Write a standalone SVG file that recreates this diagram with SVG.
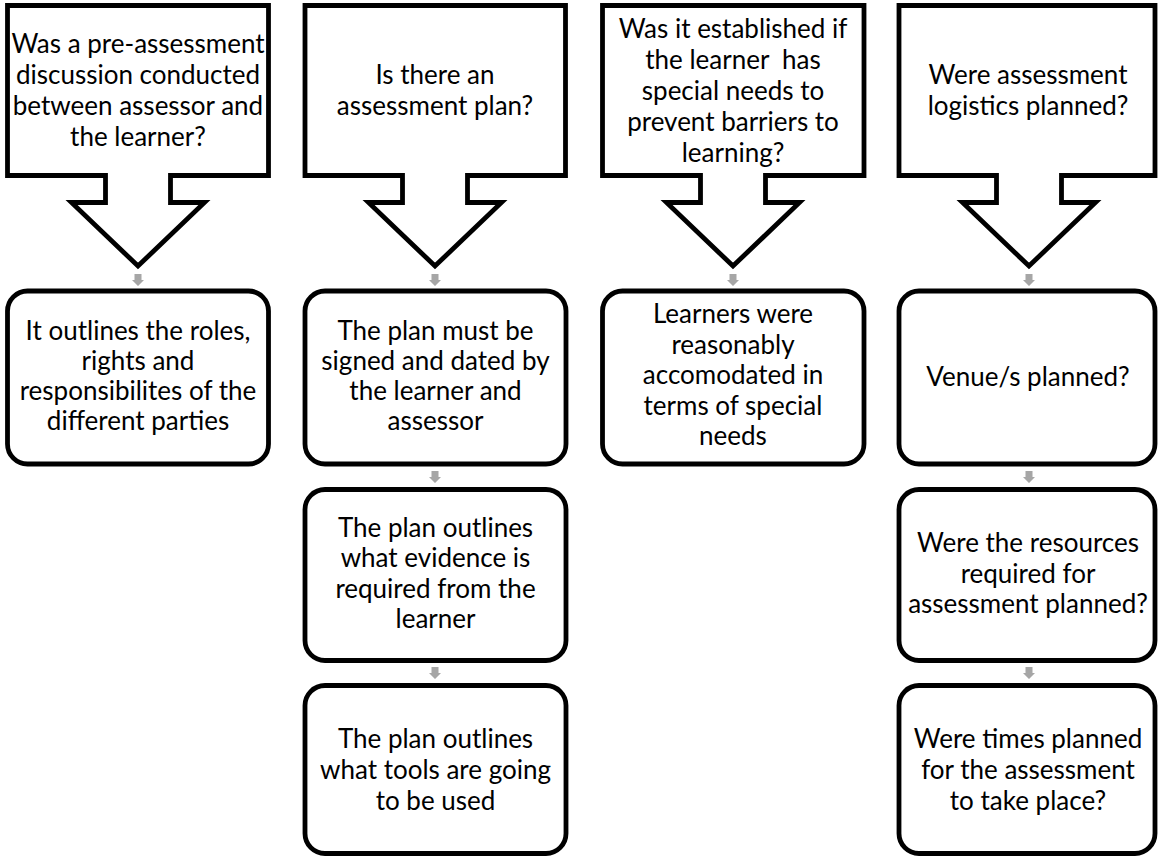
<svg xmlns="http://www.w3.org/2000/svg" width="1158" height="858" viewBox="0 0 1158 858">
  <style>
    .callout { fill: #ffffff; stroke: #000000; stroke-width: 4.8; stroke-linejoin: miter; }
    .step { fill: #ffffff; stroke: #000000; stroke-width: 4.8; }
    .lbl { font-family: Lato, "Liberation Sans", sans-serif; font-size: 26px; fill: #000000; text-anchor: middle; }
    .link { fill: #a6a6a6; }
  </style>
  <defs>
    <!-- small grey down-arrow used between stacked steps -->
    <path id="down" d="M -3.5 0 H 3.5 V 6 H 6 L 0 12 L -6 6 H -3.5 Z"/>
  </defs>
  <rect width="1158" height="858" fill="#ffffff"/>

  <!-- column 1 -->
  <g id="q1">
    <path class="callout" d="M 7.5 5.5 H 268.5 V 175.5 H 170.5 V 202.5 H 204.5 L 138 266 L 71.5 202.5 H 105.5 V 175.5 H 7.5 Z"/>
    <text class="lbl" x="138" y="53">Was a pre-assessment</text>
    <text class="lbl" x="138" y="84">discussion conducted</text>
    <text class="lbl" x="138" y="115">between assessor and</text>
    <text class="lbl" x="138" y="146">the learner?</text>
  </g>
  <g id="a1">
    <rect class="step" x="7.5" y="291" width="261" height="173" rx="20"/>
    <text class="lbl" x="138" y="340">It outlines the roles,</text>
    <text class="lbl" x="138" y="370">rights and</text>
    <text class="lbl" x="138" y="400">responsibilites of the</text>
    <text class="lbl" x="138" y="430">different parties</text>
  </g>

  <!-- column 2 -->
  <g id="q2">
    <path class="callout" d="M 305 5.5 H 565.5 V 175.5 H 467.5 V 202.5 H 501.5 L 435 266 L 368.5 202.5 H 402.5 V 175.5 H 305 Z"/>
    <text class="lbl" x="435" y="84">Is there an</text>
    <text class="lbl" x="435" y="115">assessment plan?</text>
  </g>
  <g id="a2">
    <rect class="step" x="305" y="291" width="261" height="173" rx="20"/>
    <text class="lbl" x="435.5" y="340">The plan must be</text>
    <text class="lbl" x="435.5" y="370">signed and dated by</text>
    <text class="lbl" x="435.5" y="400">the learner and</text>
    <text class="lbl" x="435.5" y="430">assessor</text>
  </g>
  <g id="a3">
    <rect class="step" x="305" y="489.5" width="261" height="171" rx="20"/>
    <text class="lbl" x="435.5" y="537">The plan outlines</text>
    <text class="lbl" x="435.5" y="567">what evidence is</text>
    <text class="lbl" x="435.5" y="598">required from the</text>
    <text class="lbl" x="435.5" y="628">learner</text>
  </g>
  <g id="a4">
    <rect class="step" x="305" y="685.5" width="261" height="168" rx="20"/>
    <text class="lbl" x="435.5" y="748">The plan outlines</text>
    <text class="lbl" x="435.5" y="779">what tools are going</text>
    <text class="lbl" x="435.5" y="810">to be used</text>
  </g>

  <!-- column 3 -->
  <g id="q3">
    <path class="callout" d="M 602.5 5.5 H 864 V 175.5 H 765.5 V 202.5 H 799.5 L 733 266 L 666.5 202.5 H 700.5 V 175.5 H 602.5 Z"/>
    <text class="lbl" x="733" y="38">Was it established if</text>
    <text class="lbl" x="733" y="69" xml:space="preserve">the learner  has</text>
    <text class="lbl" x="733" y="100">special needs to</text>
    <text class="lbl" x="733" y="131">prevent barriers to</text>
    <text class="lbl" x="733" y="162">learning?</text>
  </g>
  <g id="a5">
    <rect class="step" x="602.5" y="291" width="261.5" height="173" rx="20"/>
    <text class="lbl" x="733" y="323">Learners were</text>
    <text class="lbl" x="733" y="353.5">reasonably</text>
    <text class="lbl" x="733" y="384">accomodated in</text>
    <text class="lbl" x="733" y="414.5">terms of special</text>
    <text class="lbl" x="733" y="445">needs</text>
  </g>

  <!-- column 4 -->
  <g id="q4">
    <path class="callout" d="M 899 5.5 H 1155 V 175.5 H 1061.5 V 202.5 H 1095.5 L 1029 266 L 962.5 202.5 H 996.5 V 175.5 H 899 Z"/>
    <text class="lbl" x="1028" y="84">Were assessment</text>
    <text class="lbl" x="1028" y="115">logistics planned?</text>
  </g>
  <g id="a6">
    <rect class="step" x="899" y="291" width="256" height="173" rx="20"/>
    <text class="lbl" x="1028" y="386">Venue/s planned?</text>
  </g>
  <g id="a7">
    <rect class="step" x="899" y="489.5" width="256" height="171" rx="20"/>
    <text class="lbl" x="1028" y="552">Were the resources</text>
    <text class="lbl" x="1028" y="583">required for</text>
    <text class="lbl" x="1028" y="613">assessment planned?</text>
  </g>
  <g id="a8">
    <rect class="step" x="899" y="685.5" width="256" height="168" rx="20"/>
    <text class="lbl" x="1028" y="748">Were times planned</text>
    <text class="lbl" x="1028" y="779">for the assessment</text>
    <text class="lbl" x="1028" y="810">to take place?</text>
  </g>

  <!-- connectors -->
  <g id="connectors" class="link">
    <use href="#down" x="138" y="274"/>
    <use href="#down" x="435" y="274"/>
    <use href="#down" x="435" y="471"/>
    <use href="#down" x="435" y="667"/>
    <use href="#down" x="733" y="274"/>
    <use href="#down" x="1029" y="274"/>
    <use href="#down" x="1029" y="471"/>
    <use href="#down" x="1029" y="667"/>
  </g>
</svg>
